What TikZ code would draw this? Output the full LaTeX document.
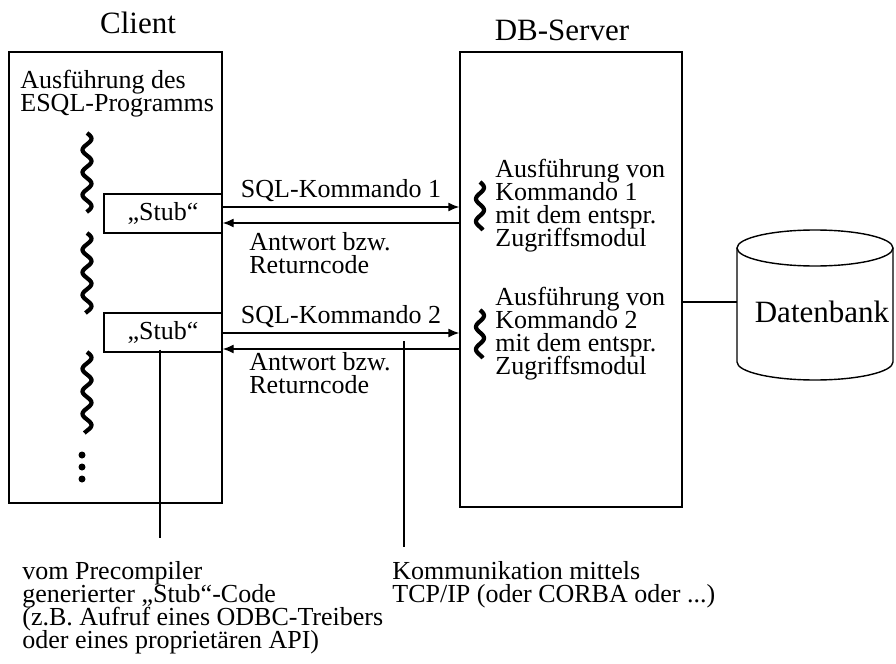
\documentclass[tikz,border=0pt]{standalone}
\usepackage{fontspec}
\setmainfont{Liberation Serif}
\usetikzlibrary{arrows.meta}

\tikzset{
    box/.style={draw, line width=0.7pt, inner sep=0pt},
    txt/.style={font={\fontsize{13}{11.5}\selectfont\lineskiplimit=-10pt}, align=left, inner sep=0pt},
    head/.style={font=\fontsize{15.5}{18}\selectfont, inner sep=0pt, anchor=base},
    wave/.style={line width=2.1pt, smooth, samples=60, variable=\t},
    msg/.style={line width=0.7pt, -{Latex[length=5.5pt,width=4.5pt]}},
    pointer/.style={line width=0.7pt}
}

\begin{document}
\begin{tikzpicture}[x=0.5pt, y=-0.5pt]
    \useasboundingbox (0,0) rectangle (896,664);

    \node[head] (client) at (138,33) {Client};
    \node[head] (server) at (562,40) {DB-Server};

    \node[box, minimum width=106.5pt, minimum height=225.5pt] (cli) at (115.5,277.5) {};
    \node[box, minimum width=111pt, minimum height=227.5pt] (srv) at (571,279.5) {};

    \node[box, txt, minimum width=59pt, minimum height=19.5pt] (stub1) at (163,213.5) {„Stub“};
    \node[box, txt, minimum width=59pt, minimum height=19.5pt] (stub2) at (163,332.5) {„Stub“};

    % multi-line nodes: base = baseline of the last line
    \node[txt, anchor=base west] (prog) at (20,112) {Ausführung des\\ESQL-Programms};

    % squiggles
    \foreach \px/\ya/\yb/\amp in {87/133/212/4.5, 87/233/313/4.5, 87/352/433/4.5, 480/182/230/4, 480/310/358/4}
        \draw[wave, domain=\ya:\yb] plot ({\px+\amp*sin(16*(\t-\ya))}, \t);

    \foreach \dy in {455, 467, 479}
        \fill (82,\dy) circle[radius=3.5];

    % messages
    \draw[msg] (stub1.east |- 0,207) -- (srv.west |- 0,207);
    \draw[msg] (srv.west |- 0,223) -- (stub1.east |- 0,223);
    \draw[msg] (stub2.east |- 0,333) -- (srv.west |- 0,333);
    \draw[msg] (srv.west |- 0,349) -- (stub2.east |- 0,349);

    \node[txt, anchor=base] (cmd1) at (341,197) {SQL-Kommando 1};
    \node[txt, anchor=base] (cmd2) at (341,323) {SQL-Kommando 2};
    \node[txt, anchor=base west] (ans1) at (249,273) {Antwort bzw.\\Returncode};
    \node[txt, anchor=base west] (ans2) at (249,393) {Antwort bzw.\\Returncode};

    \node[txt, anchor=base west] (exec1) at (495,246) {Ausführung von\\Kommando 1\\mit dem entspr.\\Zugriffsmodul};
    \node[txt, anchor=base west] (exec2) at (495,374) {Ausführung von\\Kommando 2\\mit dem entspr.\\Zugriffsmodul};

    % database
    \draw[line width=0.7pt] (737,248) -- (737,362) arc[start angle=180, end angle=0, x radius=78, y radius=18] -- (893,248);
    \draw[line width=0.7pt] (815,248) ellipse[x radius=78, y radius=18];
    \node[head] (db) at (822,322) {Datenbank};
    \coordinate (cyl) at (737,302);
    \draw[pointer] (srv.east |- cyl) -- (cyl);

    % notes
    \node[txt, anchor=base west] (note1) at (22,648) {vom Precompiler\\generierter „Stub“-Code\\(z.B. Aufruf eines ODBC-Treibers\\oder eines proprietären API)};
    \node[txt, anchor=base west] (note2) at (392,602) {Kommunikation mittels\\TCP/IP (oder CORBA oder ...)};

    \coordinate (p1) at (160,538);
    \coordinate (p2) at (404,547);
    \draw[pointer] (stub2.south -| p1) ++(0,-3) -- (p1);
    \draw[pointer] (404,341) -- (p2);
\end{tikzpicture}
\end{document}
